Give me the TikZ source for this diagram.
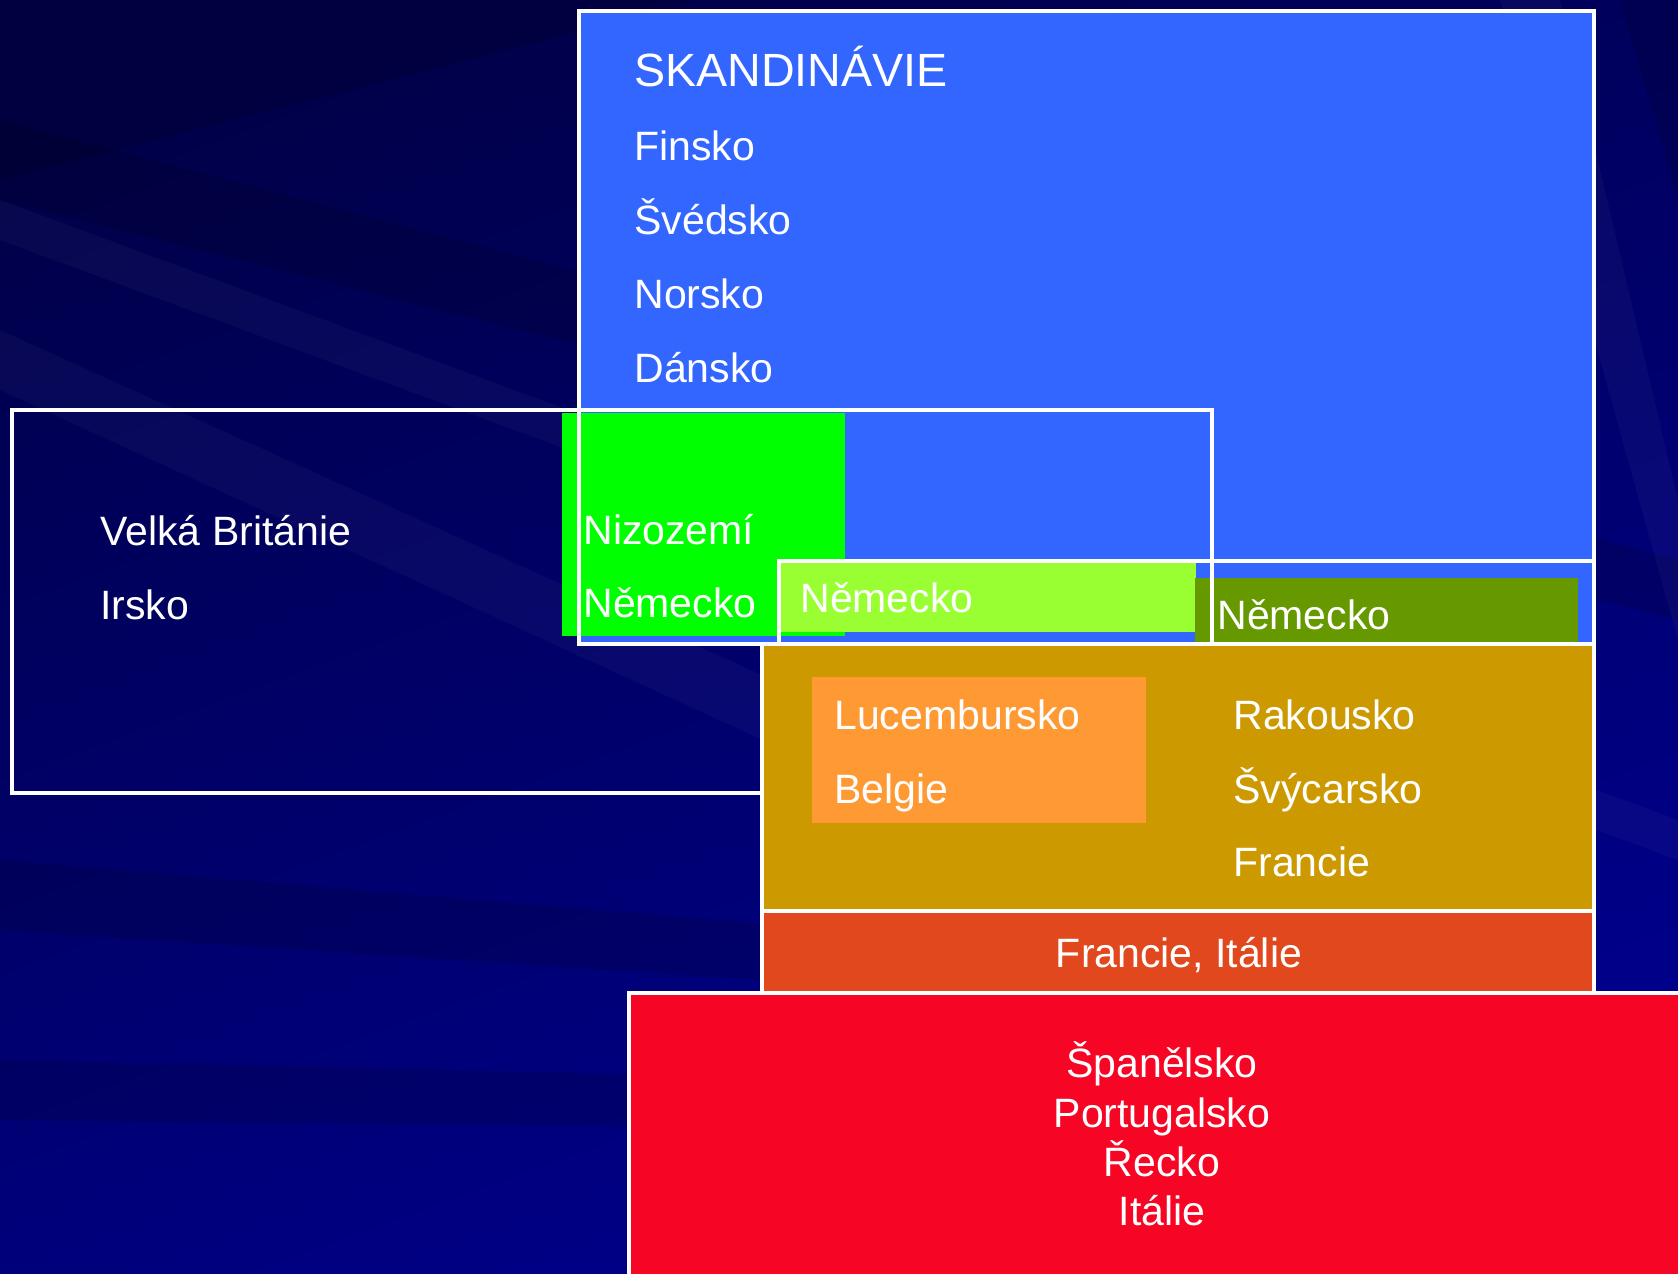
\documentclass[tikz,border=0pt]{standalone}
\usepackage{fontspec}
\setmainfont{Liberation Sans}
\definecolor{bgA}{HTML}{00004A}
\definecolor{bgB}{HTML}{00008E}
\definecolor{skblue}{HTML}{3366FF}
\definecolor{nlgreen}{HTML}{00FF00}
\definecolor{degreen}{HTML}{99FF33}
\definecolor{deolive}{HTML}{669900}
\definecolor{goldbox}{HTML}{CC9900}
\definecolor{luxorange}{HTML}{FF9933}
\definecolor{fritred}{HTML}{E2481E}
\definecolor{southred}{HTML}{F70524}
\begin{document}
\begin{tikzpicture}[x=0.5pt,y=-0.5pt,
  lbl/.style={text=white,font=\fontsize{20.5}{25}\selectfont,inner sep=0pt,anchor=base west},
  ttl/.style={lbl,font=\fontsize{23.3}{28}\selectfont},
  clbl/.style={lbl,anchor=base},
  frame/.style={draw=white,line width=1.7pt},
  streak/.style={fill=white,opacity=0.03},
  dstreak/.style={fill=black,opacity=0.13}]
\useasboundingbox (0,0) rectangle (1678,1274);
% background
\shade[top color=bgA,bottom color=bgB,shading angle=20] (0,0) rectangle (1678,1274);
\fill[dstreak] (0,0) -- (700,0) -- (0,180) -- cycle;
\fill[dstreak] (0,120) -- (1678,560) -- (1678,620) -- (0,200) -- cycle;
\fill[streak] (0,330) -- (1678,1090) -- (1678,1160) -- (0,390) -- cycle;
\fill[streak] (0,200) -- (1678,820) -- (1678,860) -- (0,240) -- cycle;
\fill[dstreak] (0,860) -- (1678,1000) -- (1678,1040) -- (0,930) -- cycle;
\fill[dstreak] (0,1060) -- (900,1080) -- (900,1130) -- (0,1120) -- cycle;
\fill[streak] (1500,0) -- (1560,0) -- (1678,500) -- (1678,640) -- cycle;
\fill[dstreak] (1620,0) -- (1678,0) -- (1678,200) -- cycle;
% boxes
\fill[skblue] (579,11) rectangle (1594,644);
\fill[nlgreen] (562,413) rectangle (845,636);
\fill[degreen] (779,562) rectangle (1196,632);
\fill[deolive] (1195,578) rectangle (1578,643);
\draw[frame] (579,11) rectangle (1594,644);
\draw[frame] (12,410) rectangle (1212,793);
\draw[frame] (779,561) rectangle (1594,644);
\filldraw[frame,fill=goldbox] (762,644) rectangle (1594,911);
\fill[luxorange] (812,677) rectangle (1146,823);
\filldraw[frame,fill=fritred] (762,911) rectangle (1594,993);
\filldraw[frame,fill=southred] (629,993) rectangle (1700,1300);
% texts
\node[ttl] (skan) at (634,86) {SKANDINÁVIE};
\node[lbl] (fin) at (634,160) {Finsko};
\node[lbl] (swe) at (634,234) {Švédsko};
\node[lbl] (nor) at (634,308) {Norsko};
\node[lbl] (dan) at (634,382) {Dánsko};
\node[lbl] (gbr) at (100,545) {Velká Británie};
\node[lbl] (irl) at (100,619) {Irsko};
\node[lbl] (nld) at (583,544) {Nizozemí};
\node[lbl] (deua) at (583,617) {Německo};
\node[lbl] (deub) at (800,612) {Německo};
\node[lbl] (deuc) at (1217,629) {Německo};
\node[lbl] (lux) at (834,729) {Lucembursko};
\node[lbl] (bel) at (834,803) {Belgie};
\node[lbl] (aut) at (1233,729) {Rakousko};
\node[lbl] (che) at (1233,803) {Švýcarsko};
\node[lbl] (fra) at (1233,876) {Francie};
\node[clbl] (frita) at (1179,967) {Francie, Itálie};
\node[clbl] (esp) at (1162,1077) {Španělsko};
\node[clbl] (prt) at (1162,1127) {Portugalsko};
\node[clbl] (grc) at (1162,1176) {Řecko};
\node[clbl] (ita) at (1162,1225) {Itálie};
\end{tikzpicture}
\end{document}
